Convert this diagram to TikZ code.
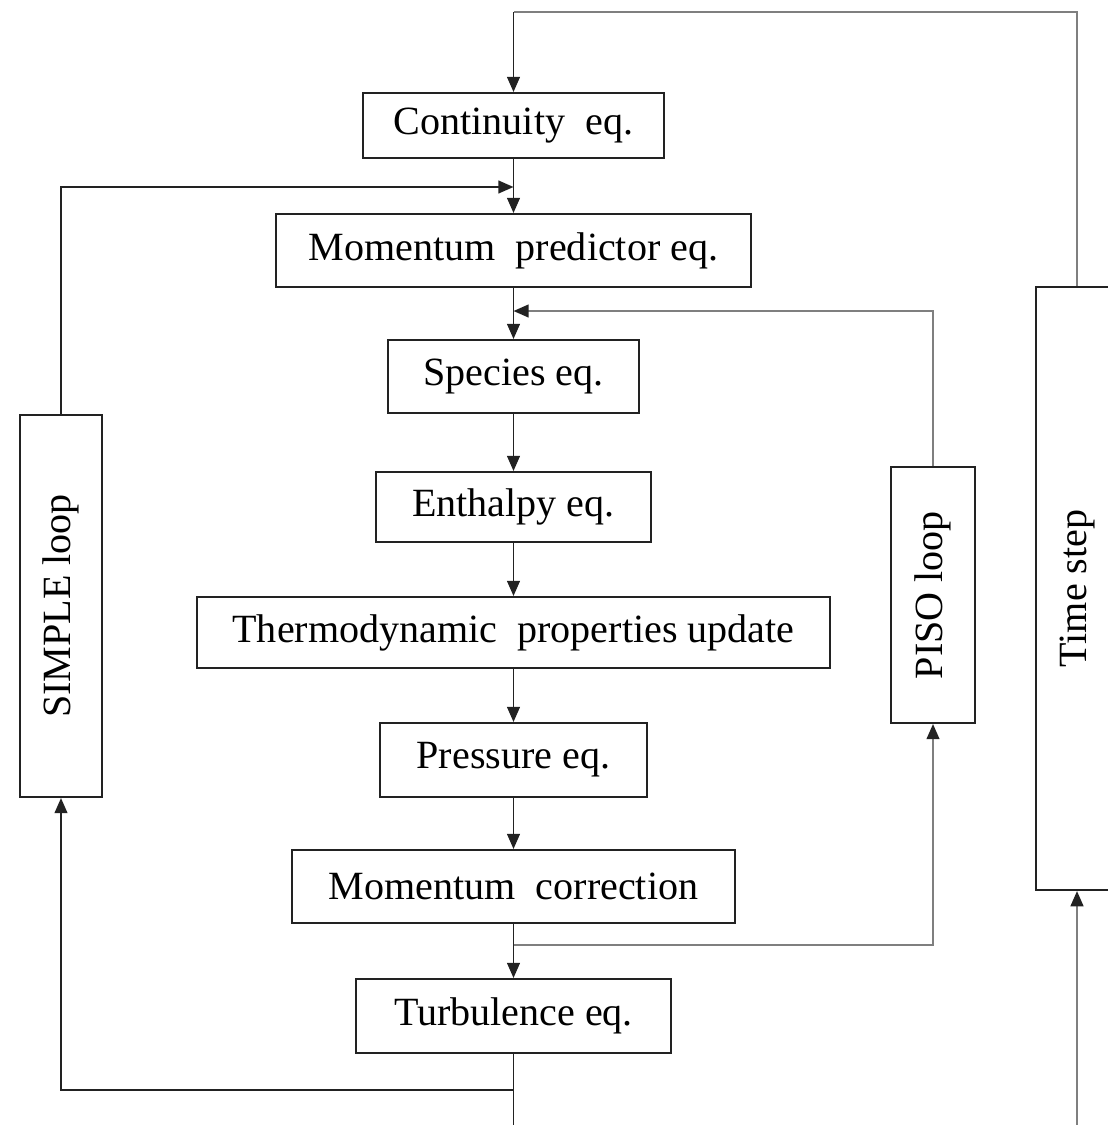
\documentclass[tikz,border=0pt]{standalone}
\usepackage{fontspec}
\setmainfont{Liberation Serif}
\usepackage{tikz}
\usetikzlibrary{arrows.meta}
\definecolor{lineblack}{HTML}{222222}
\definecolor{linegray}{HTML}{7F7F7F}
\tikzstyle{eqbox} = [draw=lineblack, fill=white, line width=1.4pt,
    rectangle, inner sep=0pt, font=\fontsize{28.5}{33}\selectfont]
\tikzstyle{loopbox} = [eqbox, minimum width=2.05cm]
\tikzstyle{arr} = [draw=lineblack, line width=1.4pt,
    -{Triangle[length=0.38cm, width=0.32cm, color=lineblack]}]
\tikzstyle{grayarr} = [arr, draw=linegray]

\begin{document}
\begin{tikzpicture}[x=0.025cm, y=-0.025cm]
    \useasboundingbox (0,0) rectangle (1107,1125);
    % main column
    \node[eqbox, minimum width=7.525cm, minimum height=1.625cm] (cont) at (513.5,125.5) {Continuity~ eq.};
    \node[eqbox, minimum width=11.875cm, minimum height=1.825cm] (mom) at (513.5,250.5) {Momentum~ predictor eq.};
    \node[eqbox, minimum width=6.275cm, minimum height=1.825cm] (spec) at (513.5,376.5) {Species eq.};
    \node[eqbox, minimum width=6.875cm, minimum height=1.75cm] (enth) at (513.5,507) {Enthalpy eq.};
    \node[eqbox, minimum width=15.825cm, minimum height=1.775cm] (thermo) at (513.5,632.5) {Thermodynamic~ properties update};
    \node[eqbox, minimum width=6.65cm, minimum height=1.85cm] (press) at (513.5,760) {Pressure eq.};
    \node[eqbox, minimum width=11.075cm, minimum height=1.825cm] (corr) at (513.5,886.5) {Momentum~ correction};
    \node[eqbox, minimum width=7.85cm, minimum height=1.85cm] (turb) at (513.5,1016) {Turbulence eq.};
    % loop boxes
    \node[loopbox, minimum height=9.55cm] (simple) at (61,606) {\rotatebox{90}{SIMPLE loop}};
    \node[loopbox, minimum width=2.1cm, minimum height=6.4cm] (piso) at (933,595) {\rotatebox{90}{PISO loop}};
    \node[loopbox, minimum height=15.075cm] (time) at (1077,588.5) {\rotatebox{90}{Time step}};

    \coordinate (simpIn) at (513.5,187);
    \coordinate (pisoIn) at (513.5,311);
    \coordinate (pisoOut) at (513.5,945);
    \coordinate (simpOut) at (513.5,1090);
    \coordinate (bottomOut) at (513.5,1125);
    \coordinate (timeIn) at (1077,1125);
    \coordinate (topTurn) at (513.5,12);

    % main flow
    \draw[arr] (cont) -- (mom);
    \draw[arr] (mom) -- (spec);
    \draw[arr] (spec) -- (enth);
    \draw[arr] (enth) -- (thermo);
    \draw[arr] (thermo) -- (press);
    \draw[arr] (press) -- (corr);
    \draw[arr] (corr) -- (turb);
    \draw[arr, -] (turb) -- (bottomOut);

    % SIMPLE loop
    \draw[arr] (simpOut) -| (simple.south);
    \draw[arr] (simple.north) |- (simpIn);

    % PISO loop
    \draw[grayarr] (pisoOut) -| (piso.south);
    \draw[grayarr] (piso.north) |- (pisoIn);

    % time step
    \draw[grayarr] (timeIn) -- (time.south);
    \draw[grayarr, -] (time.north) |- (topTurn);
    \draw[arr] (topTurn) -- (cont.north);
\end{tikzpicture}
\end{document}
